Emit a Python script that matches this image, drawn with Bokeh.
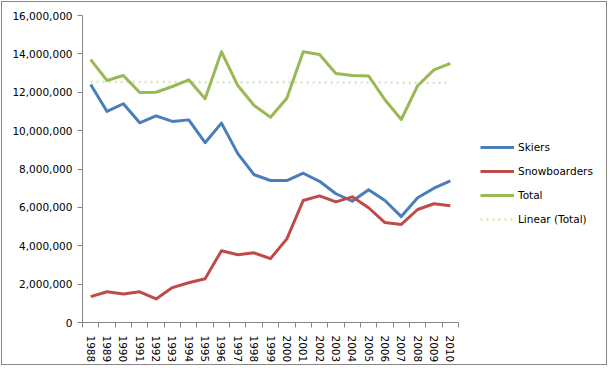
import numpy as np
from bokeh.plotting import figure
from bokeh.models import Range1d, FixedTicker, NumeralTickFormatter, Legend, LegendItem
from bokeh.embed import file_html
from bokeh.resources import INLINE

years = [str(y) for y in range(1988, 2011)]
skiers = [12.40e6, 11.00e6, 11.40e6, 10.41e6, 10.77e6, 10.48e6, 10.56e6, 9.37e6, 10.39e6,
          8.80e6, 7.70e6, 7.40e6, 7.40e6, 7.78e6, 7.36e6, 6.71e6, 6.32e6, 6.92e6, 6.36e6,
          5.52e6, 6.50e6, 7.00e6, 7.38e6]
snowboarders = [1.35e6, 1.60e6, 1.49e6, 1.60e6, 1.23e6, 1.82e6, 2.07e6, 2.28e6, 3.74e6,
                3.53e6, 3.63e6, 3.33e6, 4.36e6, 6.36e6, 6.60e6, 6.29e6, 6.55e6, 5.98e6,
                5.21e6, 5.11e6, 5.89e6, 6.19e6, 6.08e6]
total = [13.70e6, 12.61e6, 12.87e6, 11.99e6, 12.00e6, 12.30e6, 12.65e6, 11.66e6, 14.11e6,
         12.35e6, 11.31e6, 10.70e6, 11.69e6, 14.11e6, 13.97e6, 12.98e6, 12.87e6, 12.85e6,
         11.61e6, 10.58e6, 12.34e6, 13.17e6, 13.50e6]
y_ticks = [0, 2e6, 4e6, 6e6, 8e6, 10e6, 12e6, 14e6, 16e6]

xs = list(range(len(years)))
slope, intercept = np.polyfit(xs, total, 1)
trend = [slope * x + intercept for x in xs]

FONT = "DejaVu Sans"
FS = "10.5px"

n = len(years)
# frame extends right to hold the legend; axis line is bounded to the data categories
x_end = -0.5 + n * 518.0 / 376.0

p = figure(width=606, height=364, output_backend="svg", toolbar_location=None,
           x_range=Range1d(-0.5, x_end), y_range=Range1d(0, 16e6),
           min_border_left=80, min_border_top=13, min_border_right=8, min_border_bottom=44)
p.styles = {"margin-left": "1px", "margin-top": "1px", "border": "1px solid #868686"}
p.outline_line_color = None
p.xgrid.grid_line_color = None
p.ygrid.grid_line_color = None
p.background_fill_color = "white"
p.border_fill_color = "white"

r_trend = p.line(xs, trend, line_color="#D7E4BD", line_width=2.5, line_dash="2 4")
r_ski = p.line(xs, skiers, line_color="#4A7EBB", line_width=3, line_join="round")
r_snow = p.line(xs, snowboarders, line_color="#BE4B48", line_width=3, line_join="round")
r_tot = p.line(xs, total, line_color="#98B954", line_width=3, line_join="round")

# x axis
p.xaxis.bounds = (-0.5, n - 0.5)
p.xaxis.ticker = FixedTicker(ticks=xs, minor_ticks=[i - 0.5 for i in range(n + 1)])
p.xaxis.major_label_overrides = {i: y for i, y in enumerate(years)}
p.xaxis.major_label_orientation = "vertical"
p.xaxis.major_tick_line_color = None
p.xaxis.major_tick_out = 0
p.xaxis.minor_tick_out = 5
p.xaxis.minor_tick_in = 0
p.xaxis.minor_tick_line_color = "#868686"
p.xaxis.axis_line_color = "#868686"
p.xaxis.major_label_standoff = 8
p.xaxis.major_label_text_font = FONT
p.xaxis.major_label_text_font_size = FS
p.xaxis.major_label_text_color = "#000000"

# y axis
p.yaxis.ticker = FixedTicker(ticks=y_ticks)
p.yaxis.formatter = NumeralTickFormatter(format="0,0")
p.yaxis.major_tick_out = 5
p.yaxis.major_tick_in = 0
p.yaxis.minor_tick_line_color = None
p.yaxis.major_tick_line_color = "#868686"
p.yaxis.axis_line_color = "#868686"
p.yaxis.major_label_standoff = 5
p.yaxis.major_label_text_font = FONT
p.yaxis.major_label_text_font_size = FS
p.yaxis.major_label_text_color = "#000000"

legend = Legend(items=[
    LegendItem(label="Skiers", renderers=[r_ski]),
    LegendItem(label="Snowboarders", renderers=[r_snow]),
    LegendItem(label="Total", renderers=[r_tot]),
    LegendItem(label="Linear (Total)", renderers=[r_trend]),
], location=(398, 96))
legend.border_line_color = None
legend.background_fill_alpha = 0
legend.padding = 0
legend.margin = 0
legend.spacing = 10
legend.glyph_width = 34
legend.glyph_height = 14
legend.label_height = 14
legend.label_standoff = 4
legend.label_text_font = FONT
legend.label_text_font_size = FS
legend.label_text_color = "#000000"
p.add_layout(legend, "center")

open("out.html", "w").write(file_html(p, INLINE))
